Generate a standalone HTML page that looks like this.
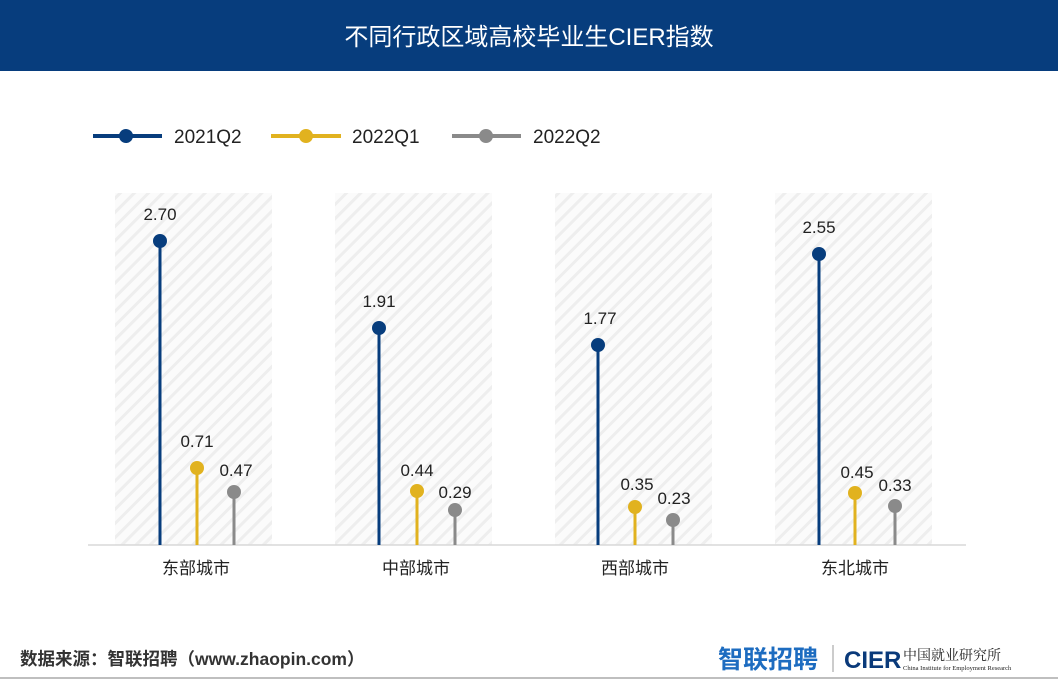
<!DOCTYPE html>
<html><head><meta charset="utf-8"><style>
body{margin:0;width:1058px;height:679px;overflow:hidden;background:#fff;font-family:"Liberation Sans","Noto Sans CJK SC",sans-serif}
</style></head><body>
<svg width="1058" height="679" xmlns="http://www.w3.org/2000/svg" font-family="Liberation Sans, Noto Sans CJK SC, sans-serif">
<defs><pattern id="h" width="10" height="10" patternUnits="userSpaceOnUse" patternTransform="rotate(45)"><rect width="10" height="10" fill="#fbfbfb"/><rect width="3" height="10" fill="#eeeeee"/></pattern></defs>
<rect x="0" y="0" width="1058" height="71" fill="#073d7d"/>
<text x="529" y="45" fill="#fff" font-size="24" text-anchor="middle">不同行政区域高校毕业生CIER指数</text>
<g font-size="19" fill="#222">
<line x1="93" y1="136" x2="162" y2="136" stroke="#073d7d" stroke-width="4"/><circle cx="126" cy="136" r="7" fill="#073d7d"/><text x="174" y="143">2021Q2</text>
<line x1="271" y1="136" x2="341" y2="136" stroke="#e1b21f" stroke-width="4"/><circle cx="306" cy="136" r="7" fill="#e1b21f"/><text x="352" y="143">2022Q1</text>
<line x1="452" y1="136" x2="521" y2="136" stroke="#8a8a8a" stroke-width="4"/><circle cx="486" cy="136" r="7" fill="#8a8a8a"/><text x="533" y="143">2022Q2</text>
</g>
<g fill="url(#h)">
<rect x="115" y="193" width="157" height="352"/><rect x="335" y="193" width="157" height="352"/><rect x="555" y="193" width="157" height="352"/><rect x="775" y="193" width="157" height="352"/>
</g>
<line x1="88" y1="545" x2="966" y2="545" stroke="#d8d8d8" stroke-width="1.5"/>
<g font-size="17" fill="#222" text-anchor="middle">
<line x1="160" y1="545" x2="160" y2="241" stroke="#073d7d" stroke-width="3"/><circle cx="160" cy="241" r="7" fill="#073d7d"/><text x="160" y="220">2.70</text>
<line x1="197" y1="545" x2="197" y2="468" stroke="#e1b21f" stroke-width="3"/><circle cx="197" cy="468" r="7" fill="#e1b21f"/><text x="197" y="447">0.71</text>
<line x1="234" y1="545" x2="234" y2="492" stroke="#8a8a8a" stroke-width="3"/><circle cx="234" cy="492" r="7" fill="#8a8a8a"/><text x="236" y="476">0.47</text>
<line x1="379" y1="545" x2="379" y2="328" stroke="#073d7d" stroke-width="3"/><circle cx="379" cy="328" r="7" fill="#073d7d"/><text x="379" y="307">1.91</text>
<line x1="417" y1="545" x2="417" y2="491" stroke="#e1b21f" stroke-width="3"/><circle cx="417" cy="491" r="7" fill="#e1b21f"/><text x="417" y="476">0.44</text>
<line x1="455" y1="545" x2="455" y2="510" stroke="#8a8a8a" stroke-width="3"/><circle cx="455" cy="510" r="7" fill="#8a8a8a"/><text x="455" y="498">0.29</text>
<line x1="598" y1="545" x2="598" y2="345" stroke="#073d7d" stroke-width="3"/><circle cx="598" cy="345" r="7" fill="#073d7d"/><text x="600" y="324">1.77</text>
<line x1="635" y1="545" x2="635" y2="507" stroke="#e1b21f" stroke-width="3"/><circle cx="635" cy="507" r="7" fill="#e1b21f"/><text x="637" y="490">0.35</text>
<line x1="673" y1="545" x2="673" y2="520" stroke="#8a8a8a" stroke-width="3"/><circle cx="673" cy="520" r="7" fill="#8a8a8a"/><text x="674" y="504">0.23</text>
<line x1="819" y1="545" x2="819" y2="254" stroke="#073d7d" stroke-width="3"/><circle cx="819" cy="254" r="7" fill="#073d7d"/><text x="819" y="233">2.55</text>
<line x1="855" y1="545" x2="855" y2="493" stroke="#e1b21f" stroke-width="3"/><circle cx="855" cy="493" r="7" fill="#e1b21f"/><text x="857" y="478">0.45</text>
<line x1="895" y1="545" x2="895" y2="506" stroke="#8a8a8a" stroke-width="3"/><circle cx="895" cy="506" r="7" fill="#8a8a8a"/><text x="895" y="491">0.33</text>
</g>
<g font-size="17" fill="#222" text-anchor="middle">
<text x="196" y="574">东部城市</text><text x="416" y="574">中部城市</text><text x="635" y="574">西部城市</text><text x="855" y="574">东北城市</text>
</g>
<text x="20" y="665" font-size="17.5" font-weight="bold" fill="#333">数据来源：智联招聘（www.zhaopin.com）</text>
<text x="718" y="668" font-size="25" font-weight="bold" fill="#1d6cc0">智联招聘</text>
<line x1="833" y1="645" x2="833" y2="672" stroke="#999" stroke-width="1"/>
<text x="844" y="668" font-size="24" font-weight="bold" fill="#0a3a7a">CIER</text>
<text x="903" y="660" font-size="14" fill="#222" font-family="Noto Serif CJK SC, serif">中国就业研究所</text>
<text x="903" y="670" font-size="6.5" fill="#222" font-family="Liberation Serif, serif">China Institute for Employment Research</text>
<line x1="0" y1="678" x2="1058" y2="678" stroke="#aaa" stroke-width="1.5"/>
</svg>
</body></html>
